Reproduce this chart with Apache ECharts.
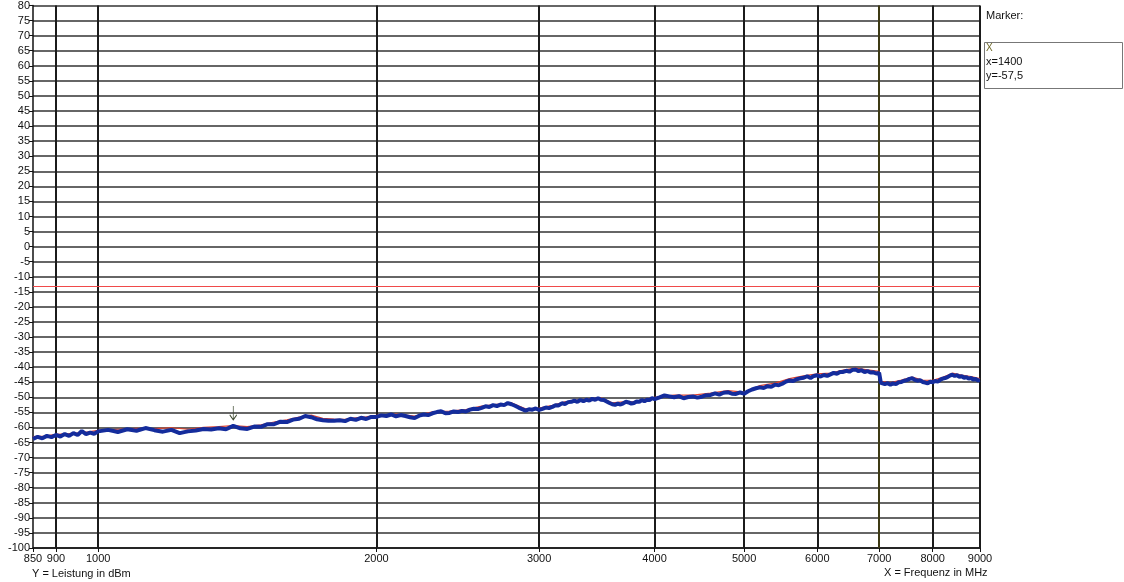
<!DOCTYPE html>
<html>
<head>
<meta charset="utf-8">
<script src="https://cdn.jsdelivr.net/npm/echarts@6/dist/echarts.min.js"></script>
<style>
  html, body { margin: 0; padding: 0; background: #ffffff; }
  #chart { width: 1124px; height: 582px; }
</style>
</head>
<body>
<div id="chart"></div>
<script>
// Spectrum sweep 850 MHz .. 9 GHz, level in dBm
const FONT = "'Liberation Sans Narrow', 'Arial Narrow', 'Liberation Sans', Arial, sans-serif";

const xTicks = [850, 900, 1000, 2000, 3000, 4000, 5000, 6000, 7000, 8000, 9000];
const xGridLines = [900, 1000, 2000, 3000, 4000, 5000, 6000, 8000, 9000];
const markerLineX = 7000;
const limitLevel = -13;
const marker = { x: 1400, y: -57.5 };

// measured trace (blue)
const traceFreq = [
  850, 860, 870, 880, 890, 900, 910, 920, 930, 940, 950, 960, 970, 980, 990, 1000,
  1025, 1050, 1075, 1100, 1125, 1150, 1175, 1200, 1225, 1250, 1275, 1300, 1325, 1350, 1375,
  1400, 1425, 1450, 1475, 1500, 1525, 1550, 1575, 1600, 1625, 1650, 1675, 1700, 1725, 1750,
  1775, 1800, 1825, 1850, 1875, 1900, 1925, 1950, 1975,
  2000, 2025, 2050, 2075, 2100, 2125, 2150, 2175, 2200, 2225, 2250, 2275, 2300, 2325, 2350, 2375,
  2400, 2425, 2450, 2475, 2500, 2525, 2550, 2575, 2600, 2625, 2650, 2675, 2700, 2725, 2750, 2775,
  2800, 2825, 2850, 2875, 2900, 2925, 2950, 2975, 3000, 3025, 3050, 3075, 3100, 3125, 3150, 3175,
  3200, 3225, 3250, 3275, 3300, 3325, 3350, 3375, 3400, 3425, 3450, 3475, 3500, 3525, 3550, 3575,
  3600, 3625, 3650, 3675, 3700, 3725, 3750, 3775, 3800, 3825, 3850, 3875, 3900, 3925, 3950, 3975,
  4000, 4050, 4100, 4150, 4200, 4250, 4300, 4350, 4400, 4450, 4500, 4550, 4600, 4650, 4700, 4750,
  4800, 4850, 4900, 4950, 5000, 5050, 5100, 5150, 5200, 5250, 5300, 5350, 5400, 5450, 5500, 5550,
  5600, 5650, 5700, 5750, 5800, 5850, 5900, 5950, 6000, 6050, 6100, 6150, 6200, 6250, 6300, 6350,
  6400, 6450, 6500, 6550, 6600, 6650, 6700, 6750, 6800, 6850, 6900, 6950, 7000,
  7030, 7050, 7100, 7150, 7200, 7250, 7300, 7350, 7400, 7450, 7500, 7550, 7600, 7650, 7700, 7750,
  7800, 7850, 7900, 7950, 8000, 8050, 8100, 8150, 8200, 8250, 8300, 8350, 8400, 8450, 8500, 8550,
  8600, 8650, 8700, 8750, 8800, 8850, 8900, 8950, 9000
];
const traceLevel = [
  -63.8, -63.1, -63.6, -62.8, -63.2, -62.5, -63.0, -62.2, -62.8, -61.9, -62.5, -61.2, -62.2, -61.7, -62.1, -61.3,
  -60.8, -61.5, -60.6, -61.1, -60.2, -60.9, -61.4, -60.8, -61.9, -61.3, -61.0, -60.5, -60.7, -60.3, -60.6,
  -59.5, -60.3, -60.5, -59.7, -59.8, -58.9, -58.9, -58.1, -58.2, -57.4, -57.1, -56.2, -56.6, -57.3, -57.6,
  -57.8, -57.8, -57.6, -57.9, -57.1, -57.5, -56.8, -57.2, -56.5,
  -56.5, -56.0, -56.2, -55.7, -56.3, -55.9, -56.2, -56.6, -56.9, -56.1, -55.7, -55.9, -55.3, -54.9, -54.6, -55.3,
  -55.2, -54.7, -54.9, -54.5, -54.7, -54.1, -53.8, -53.9, -53.5, -53.0, -53.2, -52.6, -52.9, -52.4, -52.6, -51.9,
  -52.3, -52.8, -53.4, -53.9, -54.4, -54.0, -54.1, -53.7, -54.2, -53.8, -53.4, -53.6, -53.2, -52.6, -52.7, -52.0,
  -52.2, -51.6, -51.5, -51.1, -51.5, -50.9, -51.3, -50.8, -51.1, -50.5, -50.8, -50.3, -50.8, -50.9, -51.4, -51.9,
  -52.3, -52.5, -52.1, -52.4, -52.0, -51.5, -51.7, -52.1, -51.9, -51.4, -51.5, -50.9, -51.3, -50.8, -50.9, -50.3,
  -50.6, -50.0, -49.4, -49.7, -50.0, -49.6, -50.3, -49.9, -49.7, -50.1, -49.8, -49.3, -49.2, -48.7, -49.1, -48.5,
  -48.3, -48.8, -48.9, -48.4, -48.8, -48.0, -47.4, -47.0, -46.7, -46.9, -46.3, -46.5, -45.8, -46.0, -45.5, -44.8,
  -44.4, -44.6, -44.0, -43.7, -43.5, -43.0, -43.6, -42.9, -42.7, -43.1, -42.6, -42.9, -42.4, -41.9, -42.2, -41.6,
  -41.6, -41.2, -41.5, -40.9, -40.8, -41.3, -41.0, -41.6, -41.3, -41.8, -41.7, -42.1, -41.9,
  -45.2, -45.4, -45.6, -45.3, -45.8, -45.4, -45.6, -45.0, -44.9, -44.5, -44.3, -43.9, -43.7, -44.2, -44.5, -44.3,
  -44.9, -45.1, -45.4, -44.8, -45.0, -44.6, -44.8, -44.2, -43.8, -43.6, -43.3, -42.8, -42.5, -42.9, -42.7, -43.2,
  -43.0, -43.5, -43.3, -43.8, -43.6, -44.1, -43.9, -44.4, -44.3
];

// max-hold trace (red)
const holdFreq = [
  850, 875, 900, 925, 950, 975, 1000, 1050, 1100, 1150, 1200, 1250, 1300, 1350, 1400, 1450,
  1500, 1550, 1600, 1650, 1700, 1750, 1800, 1850, 1900, 1950, 2000, 2100, 2200, 2300, 2400,
  2500, 2600, 2700, 2800, 2900, 3000, 3100, 3200, 3300, 3400, 3500, 3600, 3700, 3800, 3900,
  4000, 4200, 4400, 4600, 4800, 5000, 5200, 5400, 5600, 5800, 6000, 6200, 6400, 6600, 6800,
  7000, 7020, 7200, 7400, 7600, 7800, 8000, 8200, 8400, 8600, 8800, 9000
];
const holdLevel = [
  -63.0, -62.9, -62.3, -62.1, -61.8, -61.5, -61.0, -60.6, -60.3, -60.4, -60.1, -60.6, -60.0, -59.7, -59.4, -59.7,
  -59.1, -58.2, -57.5, -56.6, -55.9, -57.0, -57.2, -57.3, -56.8, -56.5, -56.0, -55.6, -56.2, -54.8, -54.6,
  -54.1, -52.9, -52.3, -51.8, -53.8, -53.6, -52.7, -51.5, -50.9, -50.5, -50.2, -51.8, -51.5, -51.4, -50.7,
  -50.0, -49.3, -49.3, -48.6, -47.8, -48.3, -46.1, -45.3, -43.8, -42.9, -42.2, -42.0, -41.0, -40.3, -40.9,
  -41.4, -44.7, -45.1, -44.3, -43.3, -44.3, -44.4, -43.4, -42.0, -42.6, -43.1, -43.8
];

const zip = (xs, ys) => xs.map((x, i) => [x, ys[i]]);

const chart = echarts.init(document.getElementById('chart'), null, { renderer: 'canvas' });

const gridLineData = xGridLines.map(v => ({ xAxis: v }));
gridLineData.push({ xAxis: markerLineX, lineStyle: { color: '#3d3a14', width: 2, type: 'solid' } });
gridLineData.push({ yAxis: limitLevel, lineStyle: { color: '#f04a4a', width: 1.2, type: 'solid' } });

chart.setOption({
  backgroundColor: '#ffffff',
  animation: false,
  grid: { left: 33, right: 144, top: 5, bottom: 34, containLabel: false },
  xAxis: {
    type: 'log',
    logBase: 10,
    min: 850,
    max: 9000,
    axisLine: { show: true, onZero: false, lineStyle: { color: '#111', width: 1.5 } },
    axisTick: { show: true, length: 4, customValues: xTicks, lineStyle: { color: '#111' } },
    axisLabel: {
      customValues: xTicks,
      margin: 5,
      color: '#111',
      fontFamily: FONT,
      fontSize: 11,
      formatter: v => String(Math.round(v))
    },
    splitLine: { show: false },
    minorTick: { show: false },
    minorSplitLine: { show: false }
  },
  yAxis: {
    type: 'value',
    min: -100,
    max: 80,
    interval: 5,
    axisLine: { show: true, lineStyle: { color: '#111', width: 1.5 } },
    axisTick: { show: true, length: 4, lineStyle: { color: '#111' } },
    axisLabel: { margin: 3, color: '#111', fontFamily: FONT, fontSize: 11 },
    splitLine: { show: true, lineStyle: { color: '#333', width: 1.5 } }
  },
  series: [
    {
      name: 'hold',
      type: 'line',
      data: zip(holdFreq, holdLevel),
      showSymbol: false,
      lineStyle: { color: '#e0402c', width: 1.2 },
      z: 3,
      silent: true
    },
    {
      name: 'trace',
      type: 'line',
      data: zip(traceFreq, traceLevel),
      showSymbol: false,
      lineStyle: { color: '#142c9c', width: 4 },
      z: 4,
      silent: true,
      markLine: {
        silent: true,
        symbol: ['none', 'none'],
        label: { show: false },
        lineStyle: { color: '#1b1b1b', width: 2, type: 'solid' },
        data: gridLineData,
        z: 1
      },
      markPoint: {
        silent: true,
        symbol: 'path://M5,0 L5,14 M1,9 L5,14 L9,9',
        symbolSize: [7, 14],
        symbolOffset: [0, '-50%'],
        itemStyle: { color: 'transparent', borderColor: '#3e4a30', borderWidth: 1 },
        label: { show: false },
        data: [{ coord: [marker.x, marker.y] }]
      }
    }
  ],
  graphic: [
    { type: 'text', left: 32, top: 568,
      style: { text: 'Y = Leistung in dBm', fill: '#111', font: '11px ' + FONT } },
    { type: 'text', left: 884, top: 567,
      style: { text: 'X = Frequenz in MHz', fill: '#111', font: '11px ' + FONT } },
    { type: 'text', left: 986, top: 10,
      style: { text: 'Marker:', fill: '#111', font: '11px ' + FONT } },
    { type: 'rect', shape: { x: 984.5, y: 42.5, width: 138, height: 46 },
      style: { fill: '#ffffff', stroke: '#777', lineWidth: 1 } },
    { type: 'text', left: 986, top: 43,
      style: { text: 'X', fill: '#6f6a2a', font: '10px ' + FONT } },
    { type: 'text', left: 986, top: 56,
      style: { text: 'x=' + marker.x, fill: '#111', font: '11px ' + FONT } },
    { type: 'text', left: 986, top: 70,
      style: { text: 'y=' + String(marker.y).replace('.', ','), fill: '#111', font: '11px ' + FONT } }
  ]
});
</script>
</body>
</html>
